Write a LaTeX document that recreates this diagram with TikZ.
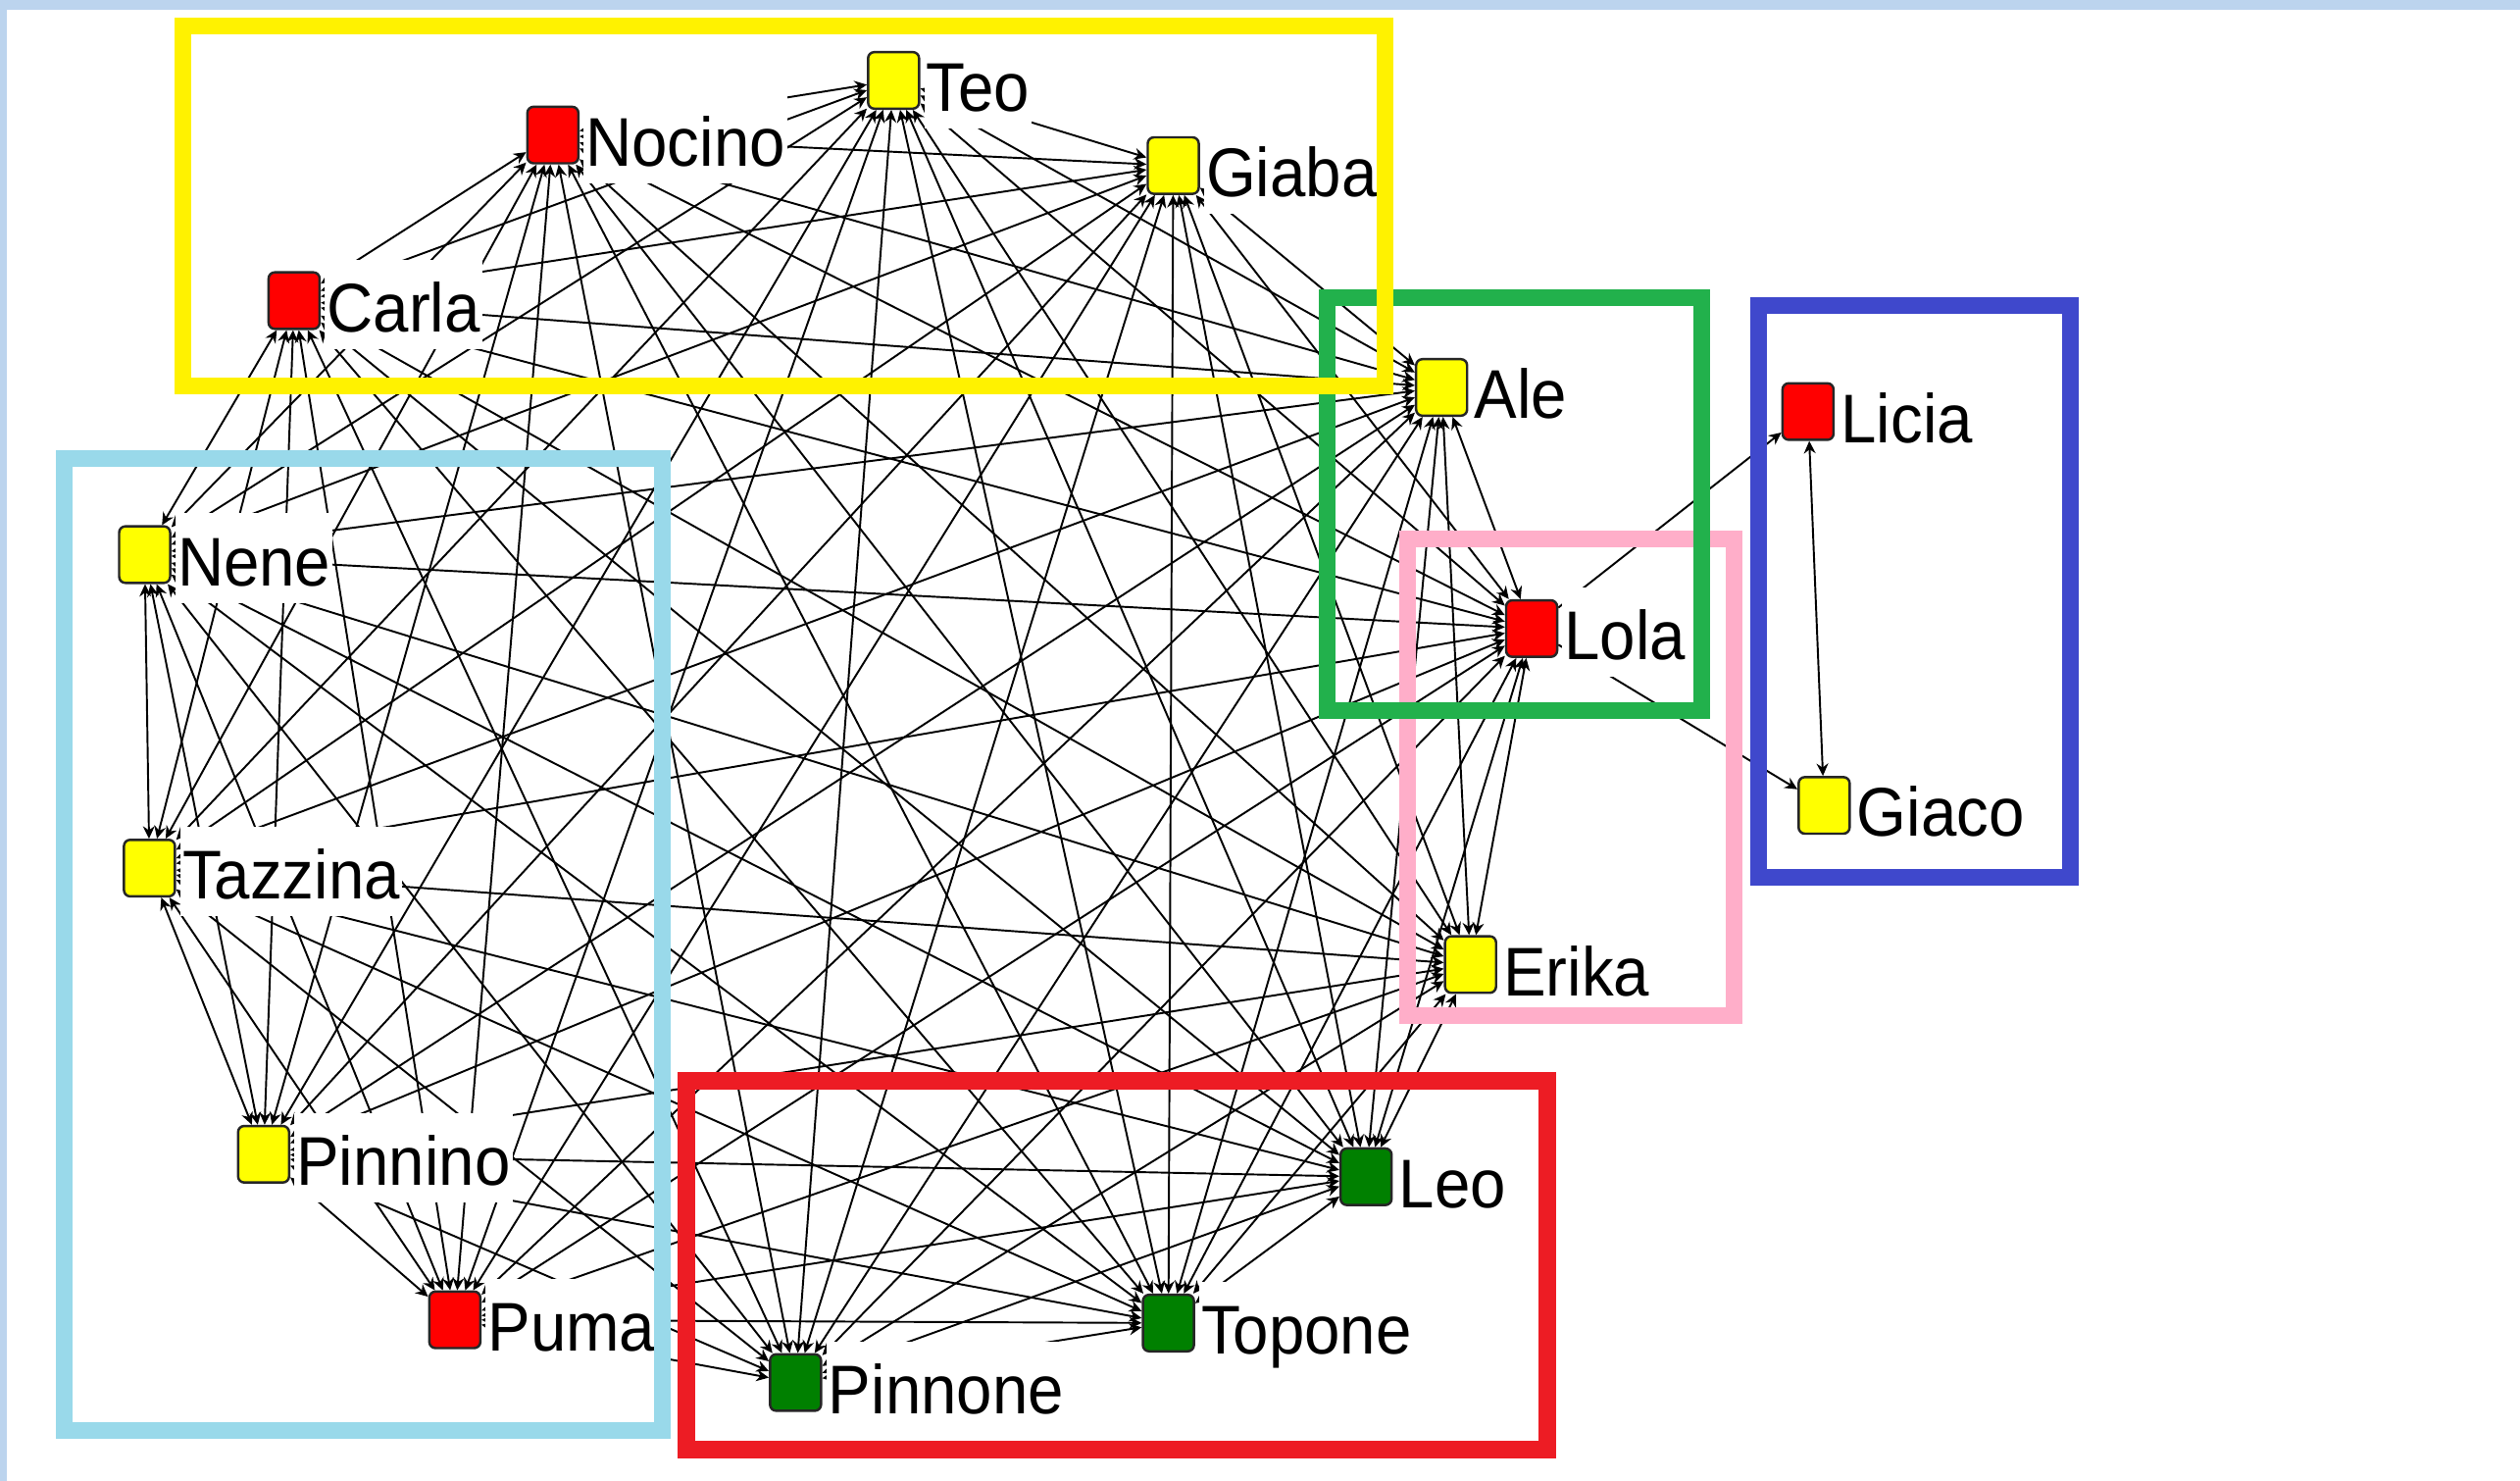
\documentclass[tikz,border=0pt]{standalone}
\usepackage{fontspec}
\setmainfont{Liberation Sans}[FakeStretch=0.93]
\usetikzlibrary{arrows.meta}
\pgfdeclarelayer{bglayer}
\pgfdeclarelayer{edgelayer}
\pgfsetlayers{bglayer,edgelayer,main}
\definecolor{frameblue}{HTML}{BCD4EE}
\definecolor{nred}{HTML}{FF0000}
\definecolor{nyellow}{HTML}{FFFF00}
\definecolor{ngreen}{HTML}{008000}
\definecolor{gyellow}{HTML}{FFF200}
\definecolor{glblue}{HTML}{99D9EA}
\definecolor{ggreen}{HTML}{22B14C}
\definecolor{gpink}{HTML}{FFAEC9}
\definecolor{gblue}{HTML}{3F48CC}
\definecolor{gred}{HTML}{ED1C24}
\tikzset{
  sq/.style={rectangle, rounded corners=1.8pt, draw=black!85, line width=0.7pt,
    minimum width=14.8pt, minimum height=16.4pt, inner sep=0pt},
  lab/.style={fill=white, inner xsep=0.6pt, inner ysep=0pt, text height=21pt,
    text depth=5pt, font=\fontsize{20}{24}\selectfont, anchor=base west},
  lnk/.style={line width=0.55pt, black,
    {Stealth[length=3.6pt,width=3.4pt]}-{Stealth[length=3.6pt,width=3.4pt]}},
  lnkone/.style={line width=0.55pt, black, -{Stealth[length=3.6pt,width=3.4pt]}},
  grp/.style={line width=4.8pt}
}
\newcommand\mynode[5]{%
  \node[sq, fill=#4] (#1) at (#2,#3) {};
  \node[lab] (#1-l) at ([xshift=1pt,yshift=-0.5pt]#1.south east) {#5};
}
\begin{document}
\begin{tikzpicture}[x=0.01639cm,y=-0.01639cm]
\begin{pgfonlayer}{bglayer}
\fill[white] (0,0) rectangle (1568,921);
\fill[frameblue] (0,0) rectangle (1568,6);
\fill[frameblue] (0,0) rectangle (4.5,921);
\end{pgfonlayer}
\useasboundingbox (0,0) rectangle (1568,921);

\mynode{teo}{556}{50}{nyellow}{Teo}
\mynode{nocino}{344}{84}{nred}{Nocino}
\mynode{giaba}{730}{103}{nyellow}{Giaba}
\mynode{carla}{183}{187}{nred}{Carla}
\mynode{ale}{897}{241}{nyellow}{Ale}
\mynode{licia}{1125}{256}{nred}{Licia}
\mynode{nene}{90}{345}{nyellow}{Nene}
\mynode{lola}{953}{391}{nred}{Lola}
\mynode{giaco}{1135}{501}{nyellow}{Giaco}
\mynode{tazzina}{93}{540}{nyellow}{Tazzina}
\mynode{erika}{915}{600}{nyellow}{Erika}
\mynode{pinnino}{164}{718}{nyellow}{Pinnino}
\mynode{leo}{850}{732}{ngreen}{Leo}
\mynode{puma}{283}{821}{nred}{Puma}
\mynode{topone}{727}{823}{ngreen}{Topone}
\mynode{pinnone}{495}{860}{ngreen}{Pinnone}

\begin{pgfonlayer}{edgelayer}
\foreach \a [count=\i] in {teo,nocino,giaba,carla,ale,nene,lola,tazzina,erika,pinnino,leo,puma,topone,pinnone}{
  \foreach \b [count=\j] in {teo,nocino,giaba,carla,ale,nene,lola,tazzina,erika,pinnino,leo,puma,topone,pinnone}{
    \ifnum\j>\i \draw[lnk] (\a) -- (\b); \fi
  }
}
\draw[lnkone] (lola) -- (licia);
\draw[lnkone] (lola) -- (giaco);
\draw[lnk] (licia) -- (giaco);
\end{pgfonlayer}

\draw[grp, glblue] (40,285) rectangle (412,890);
\draw[grp, gred, line width=5.1pt] (427,672.5) rectangle (963,901.5);
\draw[grp, gblue] (1094,190) rectangle (1288,546);
\draw[grp, gpink] (876,335) rectangle (1079,632);
\draw[grp, ggreen] (826,185) rectangle (1059,442);
\draw[grp, gyellow] (114,16) rectangle (862,240);
\end{tikzpicture}
\end{document}
